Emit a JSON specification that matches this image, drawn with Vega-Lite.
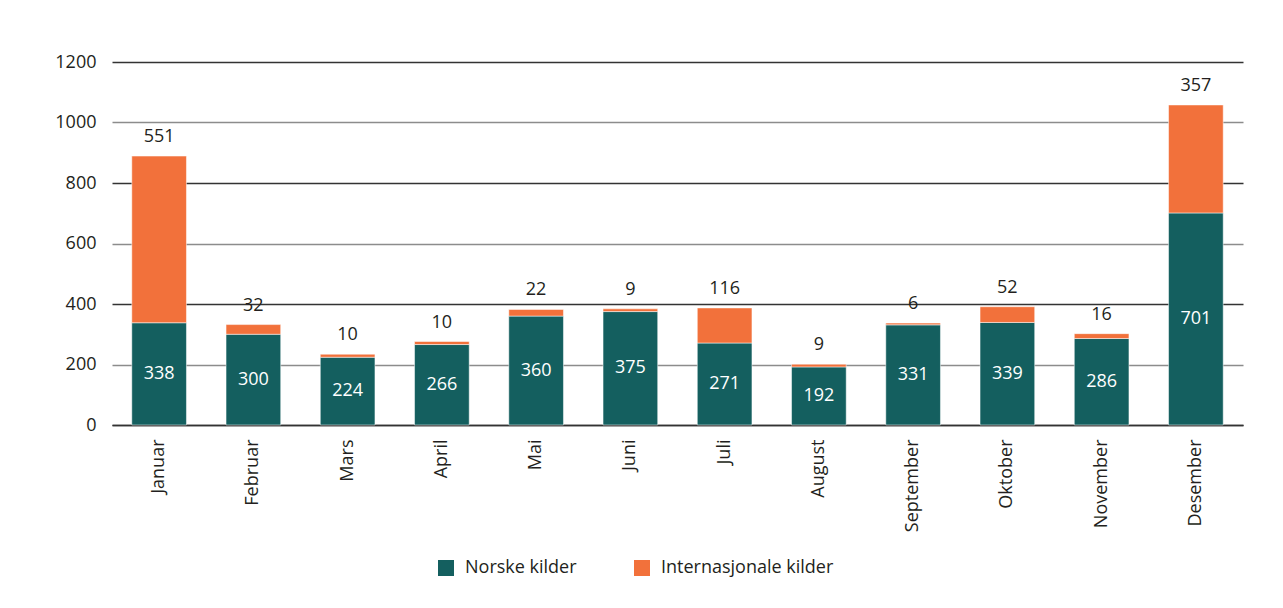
{
  "$schema": "https://vega.github.io/schema/vega-lite/v6.json",
  "autosize": {"type": "none"},
  "width": 1131,
  "height": 363,
  "padding": {"left": 112, "top": 62, "right": 40, "bottom": 183},
  "background": "white",
  "config": {
    "view": {"stroke": null},
    "font": "Open Sans",
    "axis": {"labelFont": "Open Sans", "labelColor": "#231f20", "labelFontSize": 18}
  },
  "data": {
    "values": [
      {"month": "Januar", "kilde": "Norske kilder", "value": 338},
      {"month": "Februar", "kilde": "Norske kilder", "value": 300},
      {"month": "Mars", "kilde": "Norske kilder", "value": 224},
      {"month": "April", "kilde": "Norske kilder", "value": 266},
      {"month": "Mai", "kilde": "Norske kilder", "value": 360},
      {"month": "Juni", "kilde": "Norske kilder", "value": 375},
      {"month": "Juli", "kilde": "Norske kilder", "value": 271},
      {"month": "August", "kilde": "Norske kilder", "value": 192},
      {"month": "September", "kilde": "Norske kilder", "value": 331},
      {"month": "Oktober", "kilde": "Norske kilder", "value": 339},
      {"month": "November", "kilde": "Norske kilder", "value": 286},
      {"month": "Desember", "kilde": "Norske kilder", "value": 701},
      {"month": "Januar", "kilde": "Internasjonale kilder", "value": 551},
      {"month": "Februar", "kilde": "Internasjonale kilder", "value": 32},
      {"month": "Mars", "kilde": "Internasjonale kilder", "value": 10},
      {"month": "April", "kilde": "Internasjonale kilder", "value": 10},
      {"month": "Mai", "kilde": "Internasjonale kilder", "value": 22},
      {"month": "Juni", "kilde": "Internasjonale kilder", "value": 9},
      {"month": "Juli", "kilde": "Internasjonale kilder", "value": 116},
      {"month": "August", "kilde": "Internasjonale kilder", "value": 9},
      {"month": "September", "kilde": "Internasjonale kilder", "value": 6},
      {"month": "Oktober", "kilde": "Internasjonale kilder", "value": 52},
      {"month": "November", "kilde": "Internasjonale kilder", "value": 16},
      {"month": "Desember", "kilde": "Internasjonale kilder", "value": 357}
    ]
  },
  "encoding": {
    "x": {
      "field": "month", "type": "nominal", "sort": null,
      "scale": {"paddingInner": 0.42, "paddingOuter": 0.21},
      "axis": {"title": null, "labelAngle": -90, "labelAlign": "right", "labelBaseline": "middle", "labelPadding": 14, "ticks": false, "domain": true, "domainColor": "#333333", "domainWidth": 1.5}
    }
  },
  "layer": [
    {
      "mark": {"type": "bar", "stroke": "white", "strokeWidth": 0.5},
      "encoding": {
        "y": {
          "field": "value", "type": "quantitative", "stack": "zero",
          "scale": {"domain": [0, 1200], "nice": false},
          "axis": {
            "title": null, "values": [0, 200, 400, 600, 800, 1000, 1200], "format": "d",
            "ticks": false, "domain": false, "labelPadding": 16,
            "gridColor": {"condition": {"test": "datum.value % 400 === 0", "value": "#333333"}, "value": "#8c8c8c"},
            "gridWidth": 1.3, "gridOpacity": 1
          }
        },
        "color": {
          "field": "kilde", "type": "nominal",
          "scale": {"domain": ["Norske kilder", "Internasjonale kilder"], "range": ["#145f5f", "#f2713b"]},
          "legend": {
            "title": null, "orient": "none", "direction": "horizontal",
            "legendX": 325, "legendY": 497,
            "symbolType": "square", "symbolSize": 256, "symbolStrokeWidth": 0,
            "labelFontSize": 18, "labelFont": "Open Sans", "labelColor": "#231f20", "labelLimit": 0,
            "labelOffset": 10, "columnPadding": 56
          }
        },
        "order": {"field": "kilde", "sort": "descending"}
      }
    },
    {
      "transform": [
        {"filter": "datum.kilde === 'Norske kilder'"},
        {"calculate": "datum.value / 2", "as": "mid"}
      ],
      "mark": {"type": "text", "color": "white", "fontSize": 18, "font": "Open Sans", "baseline": "middle"},
      "encoding": {
        "y": {"field": "mid", "type": "quantitative"},
        "text": {"field": "value", "type": "quantitative"}
      }
    },
    {
      "mark": {"type": "text", "color": "#231f20", "fontSize": 18, "font": "Open Sans", "baseline": "bottom", "dy": -10},
      "encoding": {
        "y": {"field": "value", "type": "quantitative", "stack": "zero"},
        "order": {"field": "kilde", "sort": "descending"},
        "text": {
          "condition": {"test": "datum.kilde === 'Internasjonale kilder'", "field": "value", "type": "quantitative"},
          "value": ""
        }
      }
    }
  ]
}
